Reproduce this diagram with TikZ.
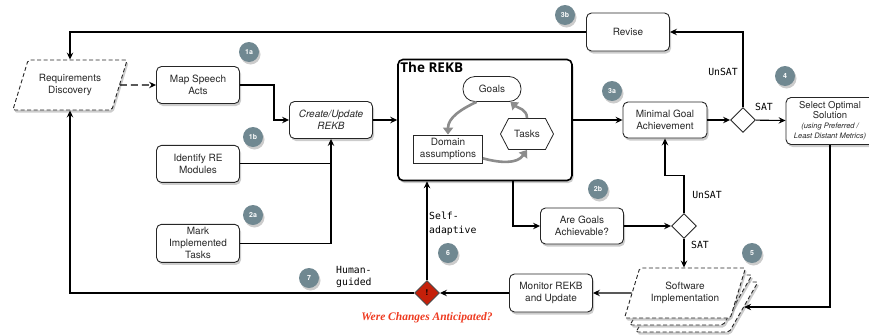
\documentclass[tikz,border=0pt]{standalone}
\usepackage{fontspec}
\setmainfont{TeX Gyre Heros}
\newfontfamily\labelfont{DejaVu Sans Mono}
\newfontfamily\kbfont{Open Sans}
\newfontfamily\warnfont{Liberation Serif}
\usepackage{xcolor}
\usepackage{tikz}
\usetikzlibrary{shapes.geometric, shapes.symbols, arrows.meta, positioning, calc, shadows}
\definecolor{badgegray}{RGB}{112,136,145}
\definecolor{warnred}{RGB}{238,58,32}
\definecolor{diamred}{RGB}{196,32,10}
\definecolor{textdark}{RGB}{40,40,40}
\definecolor{kbgray}{RGB}{140,140,140}
\tikzset{
  boxshadow/.style={drop shadow={shadow xshift=1.5pt, shadow yshift=-2.5pt, opacity=0.4}},
  proc/.style={rectangle, rounded corners=5pt, minimum width=83pt, minimum height=37pt, text centered, align=center, draw=black!85, line width=0.9pt, fill=white, text=textdark, font=\fontsize{10}{12}\selectfont, boxshadow},
  slanted/.style={trapezium, trapezium left angle=66, trapezium right angle=114, trapezium stretches=true, rounded corners=2pt, dash pattern=on 4pt off 2.5pt, draw=black!85, line width=0.9pt, fill=white, text=textdark, align=center, font=\fontsize{10}{12}\selectfont, boxshadow},
  decide/.style={diamond, minimum width=25pt, minimum height=25pt, inner sep=0pt, draw=black!85, line width=0.9pt, fill=white},
  badge/.style={circle, minimum size=20pt, inner sep=0pt, fill=badgegray, text=white, font=\fontsize{7}{7}\selectfont\bfseries, boxshadow},
  lbl/.style={inner sep=0pt, align=left, text=black, font=\labelfont\fontsize{9.8}{12}\selectfont},
  arrow/.style={line width=1.1pt, ->, >={Stealth[length=7pt, width=6.5pt, inset=2.5pt]}, color=black},
  kbarrow/.style={line width=2.6pt, ->, >={Triangle[length=7pt, width=10pt]}, color=kbgray}
}

\begin{document}
\begin{tikzpicture}[x=1pt, y=-1pt, node distance=41pt]
  \useasboundingbox (0,0) rectangle (869,335);
  % input side
  \node (reqdisc) [slanted, minimum width=115pt, minimum height=50pt] at (70,85) {Requirements\\Discovery};
  \node (mapsp) [proc] at (198,85) {Map Speech\\Acts};
  \node (identre) [proc, below=of mapsp] {Identify RE\\Modules};
  \node (markimpl) [proc, below=of identre] {Mark\\Implemented\\Tasks};
  \node (createkb) [proc, font=\fontsize{10}{12}\selectfont\itshape] at (331,120) {Create/Update\\REKB};
  % knowledge base
  \node (rekb) [rectangle, rounded corners=5pt, minimum width=174pt, minimum height=121pt, draw=black, line width=1.6pt, fill=white, boxshadow] at (485,120) {};
  \node (kbtitle) [anchor=north west, inner sep=3pt, font=\kbfont\fontsize{13.5}{13.5}\selectfont\bfseries] at (rekb.north west) {The REKB};
  \node (goals) [rectangle, rounded corners=12pt, minimum width=58pt, minimum height=25pt, draw=black!85, line width=0.8pt, fill=white, font=\fontsize{10}{12}\selectfont, text=textdark] at (492,89) {Goals};
  \node (tasks) [signal, signal to=west and east, signal pointer angle=125, minimum width=53pt, minimum height=31pt, inner sep=1pt, draw=black!85, line width=0.8pt, fill=white, font=\fontsize{10}{12}\selectfont, text=textdark] at (527,134) {Tasks};
  \node (domain) [rectangle, minimum width=69pt, minimum height=28pt, inner sep=1pt, align=center, draw=black!85, line width=0.8pt, fill=white, font=\fontsize{10}{12}\selectfont, text=textdark] at (448,149) {Domain\\assumptions};
  \draw [kbarrow] (goals.220) to[out=205, in=90] (domain.north);
  \draw [kbarrow] (domain.345) to[out=-15, in=235] (tasks.south);
  \draw [kbarrow] (tasks.north) to[out=90, in=-40] (goals.-35);
  % reasoning
  \node (mingoal) [proc, minimum width=84pt, minimum height=36pt] at (665,120) {Minimal Goal\\Achievement};
  \node (sat1) [decide] at (743,120) {};
  \node (revise) [proc, minimum height=38pt] at (628,32) {Revise};
  \node (selopt) [proc, minimum width=88pt, minimum height=47pt, font=\fontsize{9.5}{10}\selectfont] at (830,121) {Select Optimal\\Solution\\\fontsize{7.5}{9}\selectfont\itshape (using Preferred /\\\fontsize{7.5}{9}\selectfont\itshape Least Distant Metrics)};
  \node (achv) [proc, minimum height=36pt] at (582,226) {Are Goals\\Achievable?};
  \node (sat2) [decide] at (684,226) {};
  % implementation
  \node (softc) [slanted, minimum width=122pt, minimum height=50pt] at (697,307) {};
  \node (softb) [slanted, minimum width=122pt, minimum height=50pt] at (691,300) {};
  \node (soft) [slanted, minimum width=122pt, minimum height=50pt] at (685,293) {Software\\Implementation};
  \node (monitor) [proc, minimum height=38pt] at (551,293) {Monitor REKB\\and Update};
  \node (anticip) [decide, fill=diamred, draw=black!70, font=\fontsize{8}{8}\selectfont\bfseries] at (427,293) {!};
  \node (anticiplbl) [text=warnred, font=\warnfont\fontsize{11.5}{12}\selectfont\bfseries\itshape] at (427,318) {Were Changes Anticipated?};
  % branch labels
  \node (unsat1) [lbl] at (723,72) {UnSAT};
  \node (satlbl1) [lbl] at (764,107) {SAT};
  \node (unsat2) [lbl] at (707,195) {UnSAT};
  \node (satlbl2) [lbl] at (700,245) {SAT};
  \node (selfad) [lbl, anchor=west, font=\labelfont\fontsize{9.8}{14}\selectfont] at (429,224) {Self-\\adaptive};
  \node (humang) [lbl, anchor=west] at (336,277) {Human-\\guided};
  % steps
  \node (b1a) [badge] at (249,52) {1a};
  \node (b1b) [badge] at (253,137) {1b};
  \node (b2a) [badge] at (253,215) {2a};
  \node (b2b) [badge] at (598,189) {2b};
  \node (b3a) [badge] at (612,91) {3a};
  \node (b3b) [badge] at (565,15) {3b};
  \node (b4) [badge] at (785,76) {4};
  \node (b5) [badge] at (752,253) {5};
  \node (b6) [badge] at (448,253) {6};
  \node (b7) [badge] at (309,278) {7};
  % connectors
  \draw [arrow, dash pattern=on 7pt off 4pt] (reqdisc.east) -- (mapsp.west);
  \draw [arrow] (mapsp.east) -- ++(34,0) |- (createkb.west);
  \draw [line width=1.1pt] (identre.east) -- (identre.east -| createkb.south);
  \draw [arrow] (markimpl.east) -| (createkb.south);
  \draw [arrow] (createkb) -- (rekb);
  \draw [arrow] (rekb.east) -- (mingoal.west);
  \draw [arrow] (mingoal) -- (sat1); \draw [arrow] (sat1) -- (selopt);
  \draw [arrow] (sat1.north) |- (revise.east);
  \draw [arrow] (revise.west) -| (reqdisc.north);
  \draw [arrow] ($(rekb.south)+(28,0)$) |- (achv.west);
  \draw [arrow] (achv) -- (sat2);
  \draw [arrow] (sat2.north) -- ++(0,-38) -| (mingoal.south);
  \draw [arrow] (sat2.south) -- (sat2.south |- soft.north);
  \draw [arrow] (selopt.south) |- (softc.east);
  \draw [arrow] (soft.west) -- (monitor.east);
  \draw [arrow] (monitor) -- (anticip);
  \draw [arrow] (anticip.north) -- (anticip.north |- rekb.south);
  \draw [arrow] (anticip.west) -| (reqdisc.south);
\end{tikzpicture}
\end{document}
